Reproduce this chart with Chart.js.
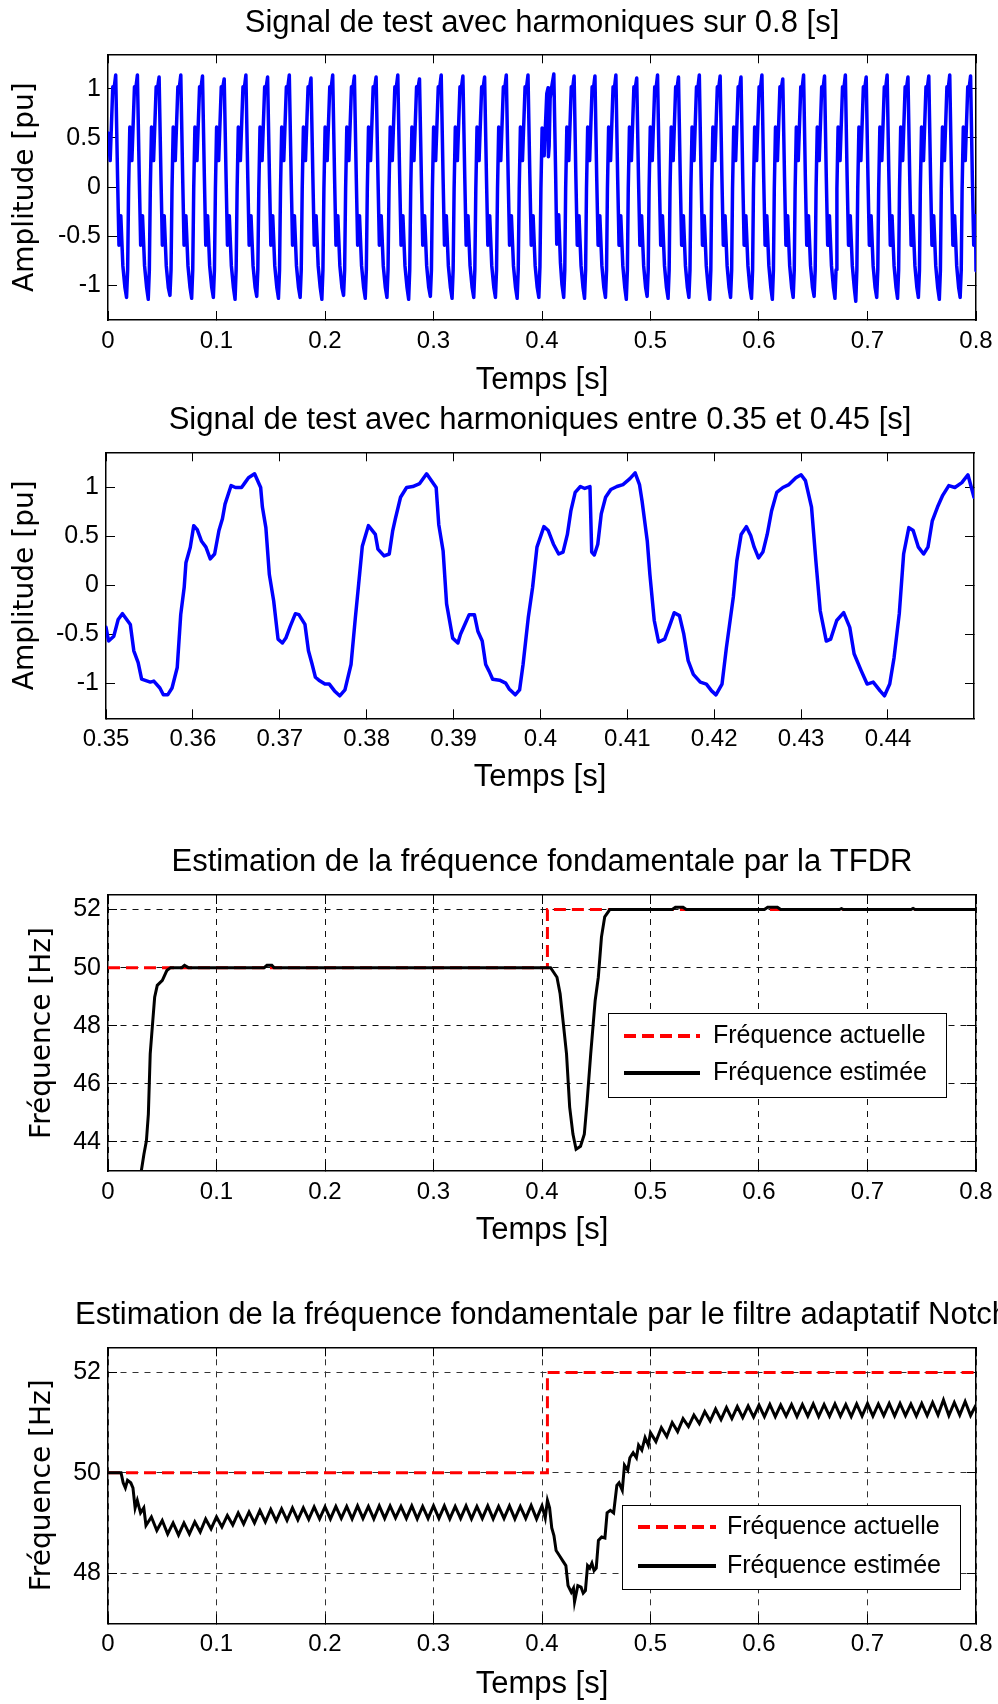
<!DOCTYPE html>
<html lang="fr">
<head>
<meta charset="utf-8">
<title>Signal de test et estimation de la fréquence</title>
<script src="https://cdn.jsdelivr.net/npm/chart.js@4.4.1/dist/chart.umd.min.js"></script>
<style>
  html, body { margin: 0; padding: 0; background: #fff; }
  body { width: 998px; height: 1704px; overflow: hidden; position: relative; }
  canvas { position: absolute; left: 0; }
</style>
</head>
<body>
<canvas id="sigFull" width="1084" height="400" style="top:0px"></canvas>
<canvas id="sigZoom" width="1080" height="420" style="top:400px"></canvas>
<canvas id="tfdr" width="1084" height="430" style="top:820px"></canvas>
<canvas id="notch" width="1084" height="454" style="top:1250px"></canvas>
<script>
// tick labels
const timeTicks = [0, 0.1, 0.2, 0.3, 0.4, 0.5, 0.6, 0.7, 0.8];
const zoomTicks = [0.35, 0.36, 0.37, 0.38, 0.39, 0.4, 0.41, 0.42, 0.43, 0.44];
const ampTicks = [-1, -0.5, 0, 0.5, 1];
const tfdrTicks = [44, 46, 48, 50, 52];
const notchTicks = [48, 50, 52];

// test signal over 0.8 s : [time ms, amplitude pu]
const sigFull = [
  [0.0,0.55],[2.0,0.27],[4.4,1.02],[5.6,1.00],[7.1,1.14],[8.8,0.11],[10.1,-0.59],[11.8,-0.29],[13.7,-0.80],[15.6,-1.02],
  [17.1,-1.12],[18.1,-0.84],[19.0,-0.02],[20.1,0.61],[22.0,0.27],[24.4,1.02],[25.6,1.00],[27.1,1.14],[28.8,0.11],[30.1,-0.59],[31.8,-0.29],[33.7,-0.80],[35.6,-1.02],
  [37.1,-1.14],[38.1,-0.84],[39.0,-0.02],[40.1,0.61],[42.0,0.27],[44.4,1.02],[45.6,1.00],[47.1,1.12],[48.8,0.11],[50.1,-0.59],[51.8,-0.29],[53.7,-0.80],[55.6,-1.02],
  [57.1,-1.10],[58.1,-0.84],[59.0,-0.02],[60.1,0.61],[62.0,0.27],[64.4,1.02],[65.6,1.00],[67.1,1.14],[68.8,0.11],[70.1,-0.59],[71.8,-0.29],[73.7,-0.80],[75.6,-1.02],
  [77.1,-1.13],[78.1,-0.84],[79.0,-0.02],[80.1,0.61],[82.0,0.27],[84.4,1.02],[85.6,1.00],[87.1,1.13],[88.8,0.11],[90.1,-0.59],[91.8,-0.29],[93.7,-0.80],[95.6,-1.02],
  [97.1,-1.12],[98.1,-0.84],[99.0,-0.02],[100.1,0.61],[102.0,0.27],[104.4,1.02],[105.6,1.00],[107.1,1.10],[108.8,0.11],[110.1,-0.59],[111.8,-0.29],[113.7,-0.80],[115.6,-1.02],
  [117.1,-1.14],[118.1,-0.84],[119.0,-0.02],[120.1,0.61],[122.0,0.27],[124.4,1.02],[125.6,1.00],[127.1,1.14],[128.8,0.11],[130.1,-0.59],[131.8,-0.29],[133.7,-0.80],[135.6,-1.02],
  [137.1,-1.11],[138.1,-0.84],[139.0,-0.02],[140.1,0.61],[142.0,0.27],[144.4,1.02],[145.6,1.00],[147.1,1.12],[148.8,0.11],[150.1,-0.59],[151.8,-0.29],[153.7,-0.80],[155.6,-1.02],
  [157.1,-1.13],[158.1,-0.84],[159.0,-0.02],[160.1,0.61],[162.0,0.27],[164.4,1.02],[165.6,1.00],[167.1,1.14],[168.8,0.11],[170.1,-0.59],[171.8,-0.29],[173.7,-0.80],[175.6,-1.02],
  [177.1,-1.12],[178.1,-0.84],[179.0,-0.02],[180.1,0.61],[182.0,0.27],[184.4,1.02],[185.6,1.00],[187.1,1.11],[188.8,0.11],[190.1,-0.59],[191.8,-0.29],[193.7,-0.80],[195.6,-1.02],
  [197.1,-1.14],[198.1,-0.84],[199.0,-0.02],[200.1,0.61],[202.0,0.27],[204.4,1.02],[205.6,1.00],[207.1,1.14],[208.8,0.11],[210.1,-0.59],[211.8,-0.29],[213.7,-0.80],[215.6,-1.02],
  [217.1,-1.10],[218.1,-0.84],[219.0,-0.02],[220.1,0.61],[222.0,0.27],[224.4,1.02],[225.6,1.00],[227.1,1.13],[228.8,0.11],[230.1,-0.59],[231.8,-0.29],[233.7,-0.80],[235.6,-1.02],
  [237.1,-1.13],[238.1,-0.84],[239.0,-0.02],[240.1,0.61],[242.0,0.27],[244.4,1.02],[245.6,1.00],[247.1,1.12],[248.8,0.11],[250.1,-0.59],[251.8,-0.29],[253.7,-0.80],[255.6,-1.02],
  [257.1,-1.12],[258.1,-0.84],[259.0,-0.02],[260.1,0.61],[262.0,0.27],[264.4,1.02],[265.6,1.00],[267.1,1.14],[268.8,0.11],[270.1,-0.59],[271.8,-0.29],[273.7,-0.80],[275.6,-1.02],
  [277.1,-1.14],[278.1,-0.84],[279.0,-0.02],[280.1,0.61],[282.0,0.27],[284.4,1.02],[285.6,1.00],[287.1,1.10],[288.8,0.11],[290.1,-0.59],[291.8,-0.29],[293.7,-0.80],[295.6,-1.02],
  [297.1,-1.11],[298.1,-0.84],[299.0,-0.02],[300.1,0.61],[302.0,0.27],[304.4,1.02],[305.6,1.00],[307.1,1.14],[308.8,0.11],[310.1,-0.59],[311.8,-0.29],[313.7,-0.80],[315.6,-1.02],
  [317.1,-1.13],[318.1,-0.84],[319.0,-0.02],[320.1,0.61],[322.0,0.27],[324.4,1.02],[325.6,1.00],[327.1,1.13],[328.8,0.11],[330.1,-0.59],[331.8,-0.29],[333.7,-0.80],[335.6,-1.02],
  [337.1,-1.12],[338.1,-0.84],[339.0,-0.02],[340.1,0.61],[342.0,0.27],[344.4,1.02],[345.6,1.00],[347.1,1.12],[348.8,0.11],[350.1,-0.59],[351.8,-0.29],[353.7,-0.80],[355.6,-1.02],
  [357.1,-1.12],[358.1,-0.84],[359.0,-0.02],[360.1,0.61],[362.0,0.27],[364.4,1.02],[365.6,1.00],[367.1,1.14],[368.8,0.11],[370.1,-0.59],[371.8,-0.29],[373.7,-0.80],[375.6,-1.02],
  [377.1,-1.13],[378.1,-0.84],[379.0,-0.02],[380.1,0.61],[382.0,0.27],[384.4,1.02],[385.6,1.00],[387.1,1.14],[388.8,0.11],[390.1,-0.59],[391.8,-0.29],[393.7,-0.80],[395.6,-1.02],
  [397.1,-1.12],[398.1,-0.81],[399.0,-0.02],[400.1,0.60],[402.0,0.32],[404.4,0.95],[405.6,1.01],[405.9,0.31],[406.6,0.42],[407.5,0.90],[408.8,1.01],[410.9,1.15],[412.6,0.11],[413.6,-0.58],[415.4,-0.28],[417.0,-0.77],[418.4,-0.99],
  [420.0,-1.12],[421.0,-0.84],[421.8,-0.02],[422.9,0.61],[424.7,0.27],[427.0,1.02],[428.2,1.00],[429.6,1.13],[431.2,0.11],[432.5,-0.59],[434.1,-0.29],[436.0,-0.80],[437.8,-1.02],
  [439.2,-1.13],[440.2,-0.84],[441.0,-0.02],[442.1,0.61],[443.9,0.27],[446.2,1.02],[447.4,1.00],[448.8,1.13],[450.4,0.11],[451.7,-0.59],[453.3,-0.29],[455.2,-0.80],[457.0,-1.02],
  [458.5,-1.12],[459.5,-0.84],[460.3,-0.02],[461.4,0.61],[463.2,0.27],[465.5,1.02],[466.7,1.00],[468.1,1.14],[469.7,0.11],[471.0,-0.59],[472.6,-0.29],[474.5,-0.80],[476.3,-1.02],
  [477.7,-1.14],[478.7,-0.84],[479.5,-0.02],[480.6,0.61],[482.4,0.27],[484.7,1.02],[485.9,1.00],[487.3,1.11],[488.9,0.11],[490.2,-0.59],[491.8,-0.29],[493.7,-0.80],[495.5,-1.02],
  [496.9,-1.11],[497.9,-0.84],[498.7,-0.02],[499.8,0.61],[501.6,0.27],[503.9,1.02],[505.1,1.00],[506.5,1.14],[508.1,0.11],[509.4,-0.59],[511.0,-0.29],[512.9,-0.80],[514.7,-1.02],
  [516.2,-1.13],[517.2,-0.84],[518.0,-0.02],[519.1,0.61],[520.9,0.27],[523.2,1.02],[524.4,1.00],[525.8,1.12],[527.4,0.11],[528.7,-0.59],[530.3,-0.29],[532.2,-0.80],[534.0,-1.02],
  [535.4,-1.12],[536.4,-0.84],[537.2,-0.02],[538.3,0.61],[540.1,0.27],[542.4,1.02],[543.6,1.00],[545.0,1.14],[546.6,0.11],[547.9,-0.59],[549.5,-0.29],[551.4,-0.80],[553.2,-1.02],
  [554.6,-1.14],[555.6,-0.84],[556.4,-0.02],[557.5,0.61],[559.3,0.27],[561.6,1.02],[562.8,1.00],[564.2,1.13],[565.8,0.11],[567.1,-0.59],[568.7,-0.29],[570.6,-0.80],[572.4,-1.02],
  [573.8,-1.12],[574.8,-0.84],[575.6,-0.02],[576.7,0.61],[578.5,0.27],[580.8,1.02],[582.0,1.00],[583.4,1.12],[585.0,0.11],[586.3,-0.59],[587.9,-0.29],[589.8,-0.80],[591.6,-1.02],
  [593.1,-1.13],[594.1,-0.84],[594.9,-0.02],[596.0,0.61],[597.8,0.27],[600.1,1.02],[601.3,1.00],[602.7,1.14],[604.3,0.11],[605.6,-0.59],[607.2,-0.29],[609.1,-0.80],[610.9,-1.02],
  [612.3,-1.14],[613.3,-0.84],[614.1,-0.02],[615.2,0.61],[617.0,0.27],[619.3,1.02],[620.5,1.00],[621.9,1.10],[623.5,0.11],[624.8,-0.59],[626.4,-0.29],[628.3,-0.80],[630.1,-1.02],
  [631.5,-1.12],[632.5,-0.84],[633.3,-0.02],[634.4,0.61],[636.2,0.27],[638.5,1.02],[639.7,1.00],[641.1,1.14],[642.7,0.11],[644.0,-0.59],[645.6,-0.29],[647.5,-0.80],[649.3,-1.02],
  [650.8,-1.11],[651.8,-0.84],[652.6,-0.02],[653.7,0.61],[655.5,0.27],[657.8,1.02],[659.0,1.00],[660.4,1.13],[662.0,0.11],[663.3,-0.59],[664.9,-0.29],[666.8,-0.80],[668.6,-1.02],
  [670.0,-1.13],[671.0,-0.84],[671.8,-0.02],[672.9,0.61],[674.7,0.27],[677.0,1.02],[678.2,1.00],[679.6,1.14],[681.2,0.11],[682.5,-0.59],[684.1,-0.29],[686.0,-0.80],[687.8,-1.02],
  [689.2,-1.16],[690.2,-0.84],[691.0,-0.02],[692.1,0.61],[693.9,0.27],[696.2,1.02],[697.4,1.00],[698.8,1.12],[700.4,0.11],[701.7,-0.59],[703.3,-0.29],[705.2,-0.80],[707.0,-1.02],
  [708.5,-1.12],[709.5,-0.84],[710.3,-0.02],[711.4,0.61],[713.2,0.27],[715.5,1.02],[716.7,1.00],[718.1,1.14],[719.7,0.11],[721.0,-0.59],[722.6,-0.29],[724.5,-0.80],[726.3,-1.02],
  [727.7,-1.13],[728.7,-0.84],[729.5,-0.02],[730.6,0.61],[732.4,0.27],[734.7,1.02],[735.9,1.00],[737.3,1.12],[738.9,0.11],[740.2,-0.59],[741.8,-0.29],[743.7,-0.80],[745.5,-1.02],
  [746.9,-1.12],[747.9,-0.84],[748.7,-0.02],[749.8,0.61],[751.6,0.27],[753.9,1.02],[755.1,1.00],[756.5,1.13],[758.1,0.11],[759.4,-0.59],[761.0,-0.29],[762.9,-0.80],[764.7,-1.02],
  [766.2,-1.14],[767.2,-0.84],[768.0,-0.02],[769.1,0.61],[770.9,0.27],[773.2,1.02],[774.4,1.00],[775.8,1.14],[777.4,0.11],[778.7,-0.59],[780.3,-0.29],[782.2,-0.80],[784.0,-1.02],
  [785.4,-1.12],[786.4,-0.84],[787.2,-0.02],[788.3,0.61],[790.1,0.27],[792.4,1.02],[793.6,1.00],[795.0,1.13],[796.6,0.11],[797.9,-0.59],[799.5,-0.29],[800.0,-0.85]
];

// same signal between 0.35 and 0.45 s : [time ms, amplitude pu]
const sigZoom = [
  [350.0,-0.43],[350.3,-0.57],[350.9,-0.52],[351.4,-0.35],[351.9,-0.29],[352.8,-0.40],[353.2,-0.67],[353.7,-0.79],[354.1,-0.96],[355.1,-0.99],
  [355.5,-0.98],[356.2,-1.05],[356.6,-1.12],[357.1,-1.12],[357.6,-1.05],[358.2,-0.84],[358.6,-0.30],[359.0,-0.02],[359.2,0.23],[359.7,0.39],
  [360.1,0.61],[360.5,0.57],[361.0,0.45],[361.5,0.39],[362.0,0.27],[362.5,0.32],[363.0,0.56],[363.4,0.68],[363.7,0.83],[364.4,1.02],
  [364.9,1.00],[365.6,1.00],[366.0,1.05],[366.4,1.10],[367.1,1.14],[367.8,1.00],[368.0,0.80],[368.4,0.59],[368.8,0.11],[369.3,-0.16],
  [369.8,-0.55],[370.3,-0.59],[370.7,-0.54],[371.2,-0.42],[371.8,-0.29],[372.2,-0.30],[372.9,-0.40],[373.3,-0.67],[373.7,-0.80],[374.1,-0.94],
  [374.5,-0.97],[375.2,-1.01],[375.7,-1.01],[376.3,-1.08],[376.9,-1.13],[377.5,-1.07],[378.2,-0.81],[378.7,-0.33],[379.0,-0.06],[379.5,0.40],
  [380.2,0.61],[381.0,0.52],[381.3,0.37],[382.0,0.30],[382.6,0.32],[383.0,0.56],[383.3,0.68],[383.9,0.90],[384.6,1.00],[385.3,1.01],
  [386.1,1.04],[386.9,1.14],[388.0,1.00],[388.3,0.62],[388.8,0.35],[389.2,-0.19],[389.9,-0.54],[390.5,-0.59],[390.8,-0.50],[391.4,-0.38],
  [391.8,-0.30],[392.4,-0.30],[392.8,-0.47],[393.3,-0.57],[393.7,-0.81],[394.1,-0.88],[394.5,-0.96],[395.3,-0.97],[396.0,-1.00],[396.4,-1.06],
  [397.1,-1.12],[397.6,-1.07],[398.0,-0.81],[398.3,-0.57],[398.6,-0.33],[399.1,-0.02],[399.6,0.39],[400.4,0.60],[400.9,0.56],[401.5,0.42],
  [402.1,0.32],[402.6,0.34],[403.1,0.52],[403.5,0.76],[404.0,0.95],[404.6,1.01],[405.1,0.99],[405.7,1.01],[405.9,0.34],[406.2,0.31],
  [406.6,0.42],[407.0,0.73],[407.5,0.90],[408.1,0.98],[408.8,1.01],[409.5,1.03],[410.3,1.09],[410.9,1.15],[411.4,1.03],[411.7,0.86],
  [412.3,0.45],[412.6,0.11],[413.1,-0.36],[413.6,-0.58],[414.3,-0.55],[414.8,-0.43],[415.4,-0.28],[416.0,-0.31],[416.5,-0.50],[417.0,-0.77],
  [417.6,-0.91],[418.4,-0.99],[419.1,-1.01],[419.7,-1.08],[420.2,-1.12],[420.9,-1.01],[421.4,-0.64],[422.2,-0.12],[422.6,0.25],[423.1,0.52],
  [423.7,0.60],[424.2,0.51],[424.6,0.39],[425.1,0.28],[425.6,0.34],[426.1,0.52],[426.6,0.76],[427.2,0.95],[427.9,1.00],[428.6,1.03],
  [429.4,1.10],[430.0,1.13],[430.5,1.07],[431.2,0.80],[431.7,0.25],[432.2,-0.26],[432.9,-0.57],[433.4,-0.55],[434.1,-0.36],[434.9,-0.28],
  [435.6,-0.43],[436.1,-0.70],[436.9,-0.87],[437.6,-1.01],[438.3,-0.99],[439.1,-1.08],[439.6,-1.13],[440.2,-1.01],[440.7,-0.74],[441.3,-0.29],
  [441.8,0.32],[442.4,0.59],[442.9,0.56],[443.5,0.39],[444.1,0.32],[444.6,0.39],[445.1,0.66],[445.7,0.80],[446.3,0.92],[447.0,1.02],
  [447.7,1.00],[448.5,1.05],[449.2,1.13],[449.9,0.90]
];

// actual fundamental frequency : [time s, Hz]
const actualFreq = [[0, 50], [0.405, 50], [0.405, 52], [0.8, 52]];

// TFDR estimate : [time s, Hz]
const tfdrEst = [
  [0.0300,42.0],[0.0307,43.0],[0.0331,43.58],[0.0354,44.04],[0.0372,44.96],[0.0389,47.03],[0.0413,48.18],[0.0430,48.98],[0.0454,49.39],
  [0.0501,49.56],[0.0542,49.90],[0.0577,50.0],[0.0680,50.0],[0.0705,50.08],[0.0740,50.0],[0.1440,50.0],[0.1465,50.08],[0.1510,50.08],
  [0.1530,50.0],[0.4079,50.0],[0.4138,49.67],[0.4167,49.10],[0.4197,48.06],[0.4226,47.03],[0.4255,45.20],[0.4285,44.27],[0.4314,43.75],
  [0.4355,43.85],[0.4390,44.27],[0.4414,45.30],[0.4449,47.03],[0.4490,48.87],[0.4519,49.67],[0.4548,51.05],[0.4578,51.75],[0.4625,52.0],
  [0.5200,52.0],[0.5230,52.08],[0.5300,52.08],[0.5330,52.0],[0.6050,52.0],[0.6080,52.08],[0.6170,52.08],[0.6200,52.0],[0.6740,52.0],
  [0.6760,52.03],[0.6780,52.0],[0.7400,52.0],[0.7420,52.04],[0.7440,52.0],[0.8000,52.0]
];

// adaptive notch filter estimate : [time s, Hz]
const notchEst = [
  [0.000,50.00],[0.012,50.00],[0.014,49.80],[0.016,49.70],[0.018,49.85],[0.021,49.80],[0.023,49.70],[0.025,49.30],[0.027,49.45],[0.030,49.20],[0.033,49.30],
  [0.035,48.95],[0.040,49.12],[0.045,48.85],[0.050,49.05],[0.055,48.78],[0.060,49.00],[0.065,48.76],[0.070,49.00],[0.075,48.78],[0.080,49.02],[0.085,48.82],[0.090,49.08],[0.095,48.88],[0.100,49.12],
  [0.105,48.92],[0.110,49.15],[0.115,48.96],[0.120,49.20],[0.125,48.98],[0.130,49.22],[0.135,49.00],[0.140,49.25],[0.145,49.02],[0.150,49.27],[0.155,49.04],[0.160,49.28],[0.165,49.05],[0.170,49.30],[0.175,49.06],[0.180,49.30],[0.185,49.07],[0.190,49.32],[0.195,49.08],[0.200,49.32],
  [0.205,49.08],[0.210,49.33],[0.215,49.09],[0.220,49.33],[0.225,49.08],[0.230,49.34],[0.235,49.09],[0.240,49.33],[0.245,49.08],[0.250,49.34],[0.255,49.09],[0.260,49.34],[0.265,49.10],[0.270,49.33],[0.275,49.09],[0.280,49.34],[0.285,49.08],[0.290,49.33],[0.295,49.09],[0.300,49.34],
  [0.305,49.09],[0.310,49.34],[0.315,49.08],[0.320,49.33],[0.325,49.09],[0.330,49.34],[0.335,49.08],[0.340,49.33],[0.345,49.09],[0.350,49.34],[0.355,49.08],[0.360,49.33],[0.365,49.09],[0.370,49.34],[0.375,49.08],[0.380,49.33],[0.385,49.09],[0.390,49.35],[0.395,49.08],[0.400,49.34],[0.403,49.10],[0.405,49.45],
  [0.407,49.30],[0.409,48.90],[0.411,48.75],[0.413,48.45],[0.416,48.35],[0.419,48.25],[0.422,48.15],[0.424,47.75],[0.427,47.62],[0.429,47.70],[0.430,47.43],[0.433,47.75],[0.436,47.72],[0.438,47.60],[0.440,47.65],
  [0.442,48.15],[0.444,48.10],[0.446,48.20],[0.448,48.05],[0.450,48.10],[0.452,48.65],[0.455,48.72],[0.458,48.70],[0.460,49.20],[0.463,49.25],[0.466,49.20],[0.469,49.75],[0.471,49.80],[0.474,49.65],
  [0.476,50.15],[0.479,50.05],[0.481,50.30],[0.484,50.40],[0.487,50.30],[0.489,50.55],[0.492,50.45],[0.495,50.70],[0.498,50.55],[0.500,50.80],
  [0.505,50.62],[0.510,50.90],[0.515,50.72],[0.520,51.00],[0.525,50.82],[0.530,51.08],[0.535,50.92],[0.540,51.15],[0.545,50.98],[0.550,51.22],[0.555,51.03],[0.560,51.27],[0.565,51.06],[0.570,51.30],[0.575,51.08],[0.580,51.32],[0.585,51.10],[0.590,51.33],[0.595,51.11],[0.600,51.35],
  [0.605,51.12],[0.610,51.36],[0.615,51.12],[0.620,51.35],[0.625,51.13],[0.630,51.36],[0.635,51.12],[0.640,51.36],[0.645,51.13],[0.650,51.37],[0.655,51.12],[0.660,51.36],[0.665,51.13],[0.670,51.37],[0.675,51.13],[0.680,51.36],[0.685,51.12],[0.690,51.37],[0.695,51.13],[0.700,51.38],
  [0.705,51.13],[0.710,51.37],[0.715,51.14],[0.720,51.38],[0.725,51.13],[0.730,51.38],[0.735,51.14],[0.740,51.37],[0.745,51.13],[0.750,51.38],[0.755,51.14],[0.760,51.40],[0.765,51.15],[0.770,51.45],[0.775,51.14],[0.780,51.40],[0.785,51.15],[0.790,51.42],[0.795,51.14],[0.800,51.35]
];

const SANS = "'Liberation Sans', Arial, sans-serif";
const fmt = v => String(+(+v).toFixed(3));
const msPts = list => list.map(p => ({ x: p[0] / 1000, y: p[1] }));
const sPts = list => list.map(p => ({ x: p[0], y: p[1] }));

// boxed legend drawn inside the axes, like matlab's
const frameLegend = {
  id: 'frameLegend',
  afterDatasetsDraw(chart, args, o) {
    if (!o || !o.show) return;
    const ctx = chart.ctx, area = chart.chartArea;
    const x = Math.round(area.left + o.x), y = Math.round(area.top + o.y);
    ctx.save();
    ctx.fillStyle = '#fff';
    ctx.fillRect(x, y, o.w, o.h);
    ctx.lineWidth = 1;
    ctx.strokeStyle = '#000';
    ctx.strokeRect(x + 0.5, y + 0.5, o.w, o.h);
    ctx.font = o.fontSize + 'px ' + SANS;
    ctx.textBaseline = 'middle';
    ctx.textAlign = 'left';
    chart.data.datasets.forEach((ds, i) => {
      const ry = y + o.row0 + i * o.rowGap;
      ctx.strokeStyle = ds.borderColor;
      ctx.lineWidth = ds.borderWidth + 1;
      ctx.setLineDash(ds.borderDash || []);
      ctx.beginPath();
      ctx.moveTo(x + o.line0, ry);
      ctx.lineTo(x + o.line1, ry);
      ctx.stroke();
      ctx.setLineDash([]);
      ctx.fillStyle = '#000';
      ctx.fillText(ds.label, x + o.text0, ry);
    });
    ctx.restore();
  }
};

function edgeAxis(pos, min, max, ticks, size) {
  return {
    type: 'linear', position: pos, min: min, max: max,
    afterBuildTicks: s => { s.ticks = ticks.map(v => ({ value: v })); },
    ticks: { display: false },
    grid: { drawOnChartArea: false, drawTicks: true, tickLength: -9, tickColor: '#000', tickWidth: 1 },
    border: { display: true, color: '#000', width: 1.5 },
    afterFit: s => { if (pos === 'top') s.height = size; else s.width = size; }
  };
}

function buildChart(id, spec) {
  const canvas = document.getElementById(id);
  const W = canvas.width, H = canvas.height;
  const a = spec.area;
  const xH = spec.xTitleMid - a.bottom + 18.6;
  const dash = spec.grid ? [6, 6] : [];
  const gridCol = spec.gridColor || '#000';
  return new Chart(canvas, {
    type: 'line',
    data: { datasets: spec.datasets },
    options: {
      responsive: false,
      animation: false,
      devicePixelRatio: 1,
      events: [],
      layout: { padding: { left: 0, right: 0, top: 0, bottom: H - a.bottom - xH } },
      elements: { point: { radius: 0 }, line: { tension: 0 } },
      plugins: {
        legend: { display: false },
        tooltip: { enabled: false },
        title: {
          display: true, text: spec.title, color: '#000',
          font: { family: SANS, size: 31, weight: 'normal' },
          padding: { top: spec.titleMid - 18.6, bottom: a.top - spec.titleMid - 18.6 }
        },
        frameLegend: spec.legend || { show: false }
      },
      scales: {
        x: {
          type: 'linear', position: 'bottom', min: spec.xMin, max: spec.xMax,
          afterBuildTicks: s => { s.ticks = spec.xTicks.map(v => ({ value: v })); },
          ticks: { color: '#000', font: { family: SANS, size: 24 }, padding: 16, maxRotation: 0, autoSkip: false, callback: fmt },
          grid: { drawOnChartArea: spec.grid, color: gridCol, lineWidth: 1, drawTicks: true, tickLength: -9, tickColor: '#000', tickWidth: 1, tickBorderDash: [] },
          border: { display: true, color: '#000', width: 1.5, dash: dash },
          title: { display: true, text: 'Temps [s]', color: '#000', font: { family: SANS, size: 31 }, padding: 0 },
          afterFit: s => { s.height = xH; }
        },
        x2: edgeAxis('top', spec.xMin, spec.xMax, spec.xTicks, 0),
        y: {
          type: 'linear', position: 'left', min: spec.yMin, max: spec.yMax,
          afterBuildTicks: s => { s.ticks = spec.yTicks.map(v => ({ value: v })); },
          ticks: { color: '#000', font: { family: SANS, size: 25 }, padding: 16, callback: fmt },
          grid: { drawOnChartArea: spec.grid, color: gridCol, lineWidth: 1, drawTicks: true, tickLength: -9, tickColor: '#000', tickWidth: 1, tickBorderDash: [] },
          border: { display: true, color: '#000', width: 1.5, dash: dash },
          title: { display: true, text: spec.yTitle, color: '#000', font: { family: 'DejaVu Sans', size: 28 }, padding: { top: spec.yTitleX - 16.8 } },
          afterFit: s => { s.width = a.left; }
        },
        y2: edgeAxis('right', spec.yMin, spec.yMax, spec.yTicks, W - a.right)
      }
    },
    plugins: [frameLegend]
  });
}

function freqSets(est) {
  return [
    { label: 'Fréquence actuelle', data: sPts(actualFreq), borderColor: '#ff0000', borderWidth: 3, borderDash: [12, 6], order: 2 },
    { label: 'Fréquence estimée', data: sPts(est), borderColor: '#000000', borderWidth: 3, order: 1 }
  ];
}

buildChart('sigFull', {
  area: { left: 108, top: 54.3, right: 976, bottom: 320 },
  title: 'Signal de test avec harmoniques sur 0.8 [s]', titleMid: 23.3, xTitleMid: 380, yTitleX: 25.5,
  xMin: 0, xMax: 0.8, xTicks: timeTicks, yMin: -1.35, yMax: 1.35, yTicks: ampTicks, yTitle: 'Amplitude [pu]', grid: false,
  datasets: [{ label: 'signal', data: msPts(sigFull), borderColor: '#0000ff', borderWidth: 3.5, borderJoinStyle: 'round', borderCapStyle: 'round' }]
});

buildChart('sigZoom', {
  area: { left: 106, top: 52.3, right: 974, bottom: 318.3 },
  title: 'Signal de test avec harmoniques entre 0.35 et 0.45 [s]', titleMid: 20.8, xTitleMid: 377.3, yTitleX: 26,
  xMin: 0.35, xMax: 0.4499, xTicks: zoomTicks, yMin: -1.36, yMax: 1.36, yTicks: ampTicks, yTitle: 'Amplitude [pu]', grid: false,
  datasets: [{ label: 'signal', data: msPts(sigZoom), borderColor: '#0000ff', borderWidth: 3.5, borderJoinStyle: 'round', borderCapStyle: 'round' }]
});

buildChart('tfdr', {
  area: { left: 108, top: 75, right: 976, bottom: 351 },
  title: 'Estimation de la fréquence fondamentale par la TFDR', titleMid: 42.5, xTitleMid: 410, yTitleX: 42.3,
  xMin: 0, xMax: 0.8, xTicks: timeTicks, yMin: 43, yMax: 52.5, yTicks: tfdrTicks, yTitle: 'Fréquence [Hz]', grid: true, gridColor: '#111',
  datasets: freqSets(tfdrEst),
  legend: { show: true, x: 500, y: 118, w: 338, h: 84, row0: 23, rowGap: 37, line0: 16, line1: 92, text0: 105, fontSize: 25 }
});

buildChart('notch', {
  area: { left: 108, top: 97.3, right: 976, bottom: 373.3 },
  title: 'Estimation de la fréquence fondamentale par le filtre adaptatif Notch', titleMid: 65.8, xTitleMid: 434, yTitleX: 42.3,
  xMin: 0, xMax: 0.8, xTicks: timeTicks, yMin: 47, yMax: 52.5, yTicks: notchTicks, yTitle: 'Fréquence [Hz]', grid: true, gridColor: '#333',
  datasets: freqSets(notchEst),
  legend: { show: true, x: 514, y: 158, w: 338, h: 84, row0: 22, rowGap: 39, line0: 16, line1: 94, text0: 105, fontSize: 25 }
});
</script>
</body>
</html>
